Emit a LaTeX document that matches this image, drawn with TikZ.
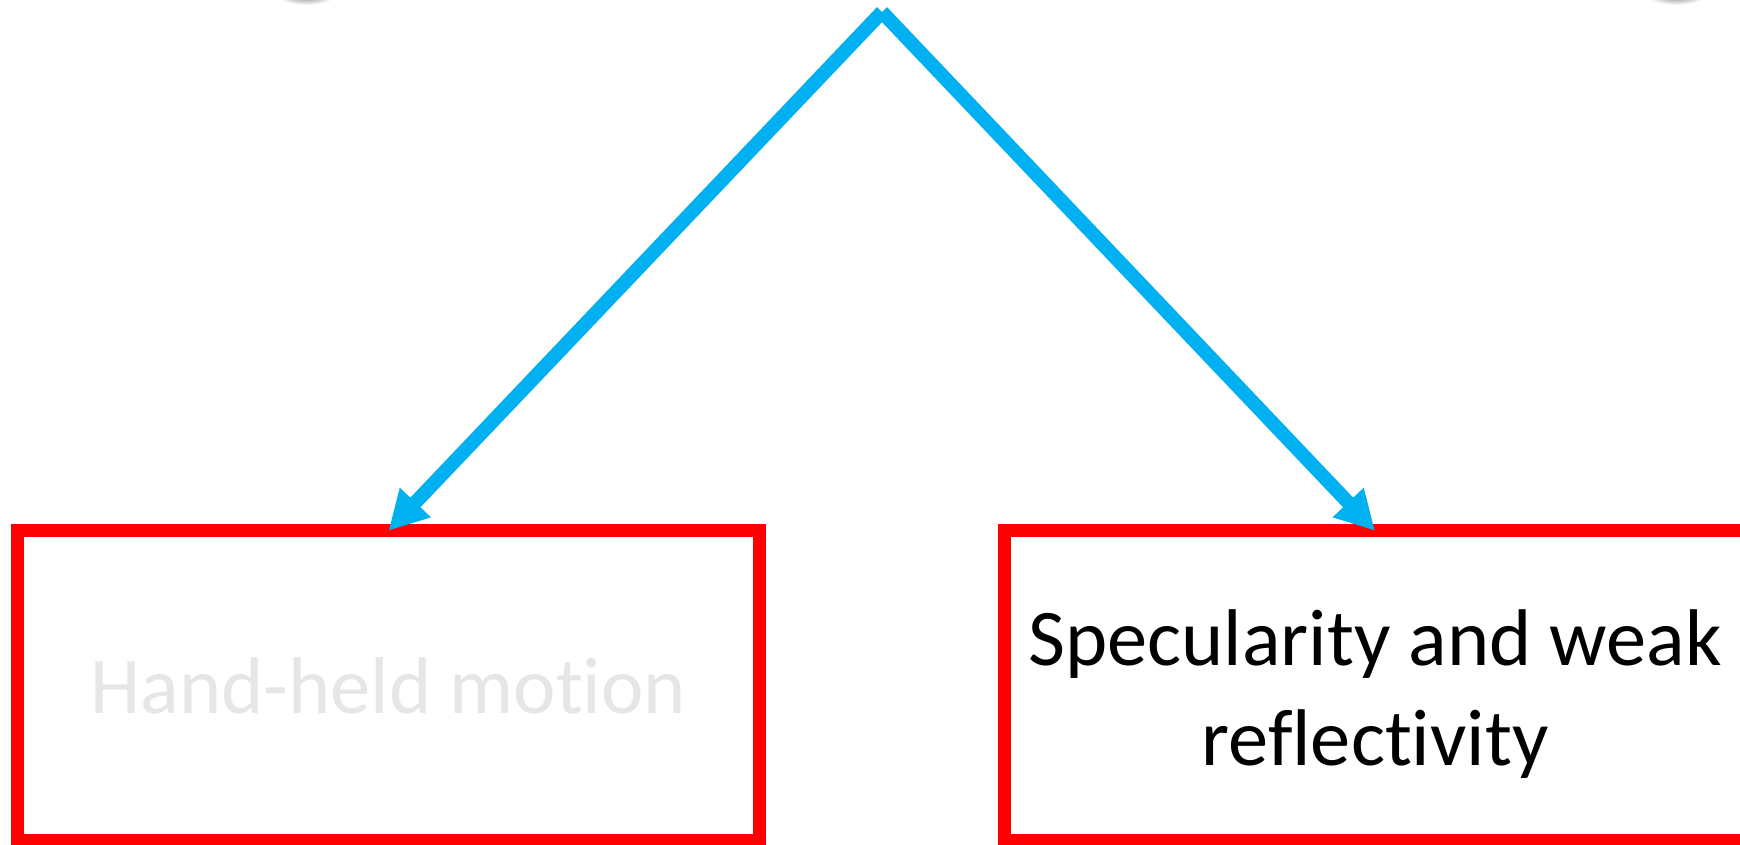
\documentclass[tikz,border=0pt]{standalone}
\usepackage{fontspec}
\setmainfont{Carlito}[Ligatures={NoCommon,NoRequired,NoContextual}]
\usetikzlibrary{arrows.meta}
\definecolor{flowcyan}{RGB}{0,176,240}
\definecolor{boxred}{RGB}{255,0,0}
\definecolor{paletext}{RGB}{230,230,230}
\tikzset{
  causebox/.style={draw=boxred, line width=6.5pt, rectangle, outer sep=0pt,
    inner sep=0pt, minimum width=371pt, minimum height=155pt, align=center,
    font=\fontsize{40.2}{50}\selectfont},
  boxtext/.style={font=\fontsize{40.2}{50}\selectfont, align=center,
    inner sep=0pt},
  flowarrow/.style={draw=flowcyan, line width=7pt, line cap=butt,
    -{Triangle[length=19.5pt, width=20pt]}},
  topshadow/.style={inner color=black!75, outer color=white}
}
\begin{document}
\begin{tikzpicture}[x=0.5pt, y=-0.5pt]
  \useasboundingbox (0,0) rectangle (1740,845);
  \clip (0,0) rectangle (1740,845);
  \fill[white] (0,0) rectangle (1740,845);

  % soft shadows of the two nodes above the frame
  \shade[topshadow] (306,-10) ellipse [x radius=34, y radius=15];
  \shade[topshadow] (1676,-10) ellipse [x radius=34, y radius=15];

  % the two consequences
  \node[causebox, text=paletext] (hand) at (388.5,685.75) {Hand-held motion};
  \node[causebox,
    label={[boxtext, text=black, yshift=-4pt]center:{Specularity and weak\\reflectivity}}]
    (spec) at (1375,685.75) {};

  % common origin of both arrows
  \coordinate (apex) at (882,12);
  \draw[flowarrow] (apex) -- (hand.north);
  \draw[flowarrow] (apex) -- (spec.north);
\end{tikzpicture}
\end{document}
